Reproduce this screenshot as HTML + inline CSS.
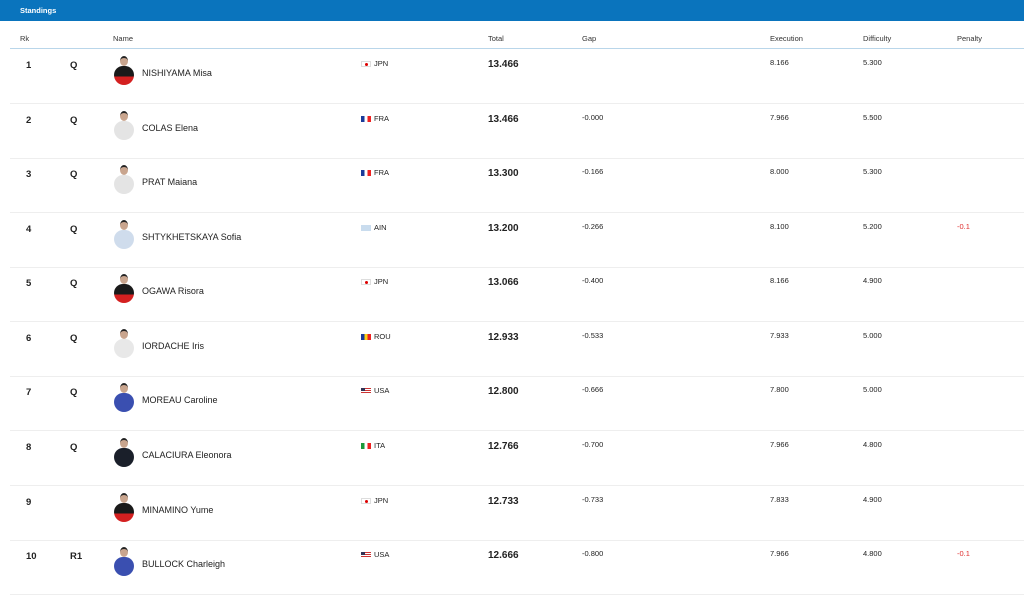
<!DOCTYPE html>
<html><head><meta charset="utf-8"><style>
*{margin:0;padding:0;box-sizing:border-box}
body{width:1024px;height:596px;background:#fff;font-family:"Liberation Sans",sans-serif;color:#222;position:relative;overflow:hidden}
.bar{position:absolute;left:0;top:0;width:1024px;height:21px;background:#0a74bd}
.bar span{position:absolute;left:20px;top:6px;font-size:7.5px;font-weight:bold;color:#fff}
.h{position:absolute;top:34px;font-size:7.5px;color:#333}
.hl{position:absolute;left:10px;top:48px;width:1014px;height:1px;background:#b9d6ea}
.row{position:absolute;left:0;width:1024px;height:55px}
.row .sep{position:absolute;left:10px;bottom:0;width:1014px;height:1px;background:#eee}
.row div{position:absolute}
.rk{left:26px;top:11px;font-size:9.5px;font-weight:bold}
.q{left:70px;top:11px;font-size:9.5px;font-weight:bold}
.nm{left:142px;top:19px;font-size:9px}
.fl{left:361px;top:12px;width:10px;height:6px}
.cc{left:374px;top:10px;font-size:7.5px}
.tot{left:488px;top:10px;font-size:10px;font-weight:bold}
.gap{left:582px;top:9px;font-size:7.5px}
.ex{left:770px;top:9px;font-size:7.5px}
.df{left:863px;top:9px;font-size:7.5px}
.pn{left:957px;top:9px;font-size:7.5px;color:#e03030}
.hd{left:120px;top:7px;width:8px;height:10px;border-radius:50%;background:#c9a58e;border-top:2px solid #222}
.bd{left:114px;top:17px;width:20px;height:19px;border-radius:9px 9px 10px 10px}
.jpn{background:#fff;border:1px solid #ddd}
.jpn::after{content:"";position:absolute;left:3px;top:1px;width:3px;height:3px;border-radius:50%;background:#d00}
.fra{background:linear-gradient(90deg,#1a3a9a 33%,#fff 33% 66%,#e22 66%)}
.ain{background:#c9dcee}
.rou{background:linear-gradient(90deg,#1a3a9a 33%,#fcd116 33% 66%,#e22 66%)}
.usa{background:repeating-linear-gradient(#c33 0 1px,#fff 1px 2px)}
.usa::after{content:"";position:absolute;left:0;top:0;width:4px;height:3px;background:#335}
.ita{background:linear-gradient(90deg,#1a9a3a 33%,#fff 33% 66%,#e22 66%)}
</style></head><body>
<div class="bar"><span>Standings</span></div>
<div class="h" style="left:20px">Rk</div>
<div class="h" style="left:113px">Name</div>
<div class="h" style="left:488px">Total</div>
<div class="h" style="left:582px">Gap</div>
<div class="h" style="left:770px">Execution</div>
<div class="h" style="left:863px">Difficulty</div>
<div class="h" style="left:957px">Penalty</div>
<div class="hl"></div>

<div class="row" style="top:49px"><div class="rk">1</div><div class="q">Q</div><div class="hd"></div><div class="bd" style="background:linear-gradient(#1a1a1a 55%,#d42020 55%)"></div><div class="nm">NISHIYAMA Misa</div><div class="fl jpn"></div><div class="cc">JPN</div><div class="tot">13.466</div><div class="ex">8.166</div><div class="df">5.300</div><div class="sep"></div></div>
<div class="row" style="top:104px"><div class="rk">2</div><div class="q">Q</div><div class="hd"></div><div class="bd" style="background:#e4e4e4"></div><div class="nm">COLAS Elena</div><div class="fl fra"></div><div class="cc">FRA</div><div class="tot">13.466</div><div class="gap">-0.000</div><div class="ex">7.966</div><div class="df">5.500</div><div class="sep"></div></div>
<div class="row" style="top:158px"><div class="rk">3</div><div class="q">Q</div><div class="hd"></div><div class="bd" style="background:#e4e4e4"></div><div class="nm">PRAT Maiana</div><div class="fl fra"></div><div class="cc">FRA</div><div class="tot">13.300</div><div class="gap">-0.166</div><div class="ex">8.000</div><div class="df">5.300</div><div class="sep"></div></div>
<div class="row" style="top:213px"><div class="rk">4</div><div class="q">Q</div><div class="hd"></div><div class="bd" style="background:#cfdcec"></div><div class="nm">SHTYKHETSKAYA Sofia</div><div class="fl ain"></div><div class="cc">AIN</div><div class="tot">13.200</div><div class="gap">-0.266</div><div class="ex">8.100</div><div class="df">5.200</div><div class="pn">-0.1</div><div class="sep"></div></div>
<div class="row" style="top:267px"><div class="rk">5</div><div class="q">Q</div><div class="hd"></div><div class="bd" style="background:linear-gradient(#1a1a1a 55%,#d42020 55%)"></div><div class="nm">OGAWA Risora</div><div class="fl jpn"></div><div class="cc">JPN</div><div class="tot">13.066</div><div class="gap">-0.400</div><div class="ex">8.166</div><div class="df">4.900</div><div class="sep"></div></div>
<div class="row" style="top:322px"><div class="rk">6</div><div class="q">Q</div><div class="hd"></div><div class="bd" style="background:#e8e8e8"></div><div class="nm">IORDACHE Iris</div><div class="fl rou"></div><div class="cc">ROU</div><div class="tot">12.933</div><div class="gap">-0.533</div><div class="ex">7.933</div><div class="df">5.000</div><div class="sep"></div></div>
<div class="row" style="top:376px"><div class="rk">7</div><div class="q">Q</div><div class="hd"></div><div class="bd" style="background:#3a4fb0"></div><div class="nm">MOREAU Caroline</div><div class="fl usa"></div><div class="cc">USA</div><div class="tot">12.800</div><div class="gap">-0.666</div><div class="ex">7.800</div><div class="df">5.000</div><div class="sep"></div></div>
<div class="row" style="top:431px"><div class="rk">8</div><div class="q">Q</div><div class="hd"></div><div class="bd" style="background:#1a1f2a"></div><div class="nm">CALACIURA Eleonora</div><div class="fl ita"></div><div class="cc">ITA</div><div class="tot">12.766</div><div class="gap">-0.700</div><div class="ex">7.966</div><div class="df">4.800</div><div class="sep"></div></div>
<div class="row" style="top:486px"><div class="rk">9</div><div class="hd"></div><div class="bd" style="background:linear-gradient(#1a1a1a 55%,#d42020 55%)"></div><div class="nm">MINAMINO Yume</div><div class="fl jpn"></div><div class="cc">JPN</div><div class="tot">12.733</div><div class="gap">-0.733</div><div class="ex">7.833</div><div class="df">4.900</div><div class="sep"></div></div>
<div class="row" style="top:540px"><div class="rk">10</div><div class="q">R1</div><div class="hd"></div><div class="bd" style="background:#3a4fb0"></div><div class="nm">BULLOCK Charleigh</div><div class="fl usa"></div><div class="cc">USA</div><div class="tot">12.666</div><div class="gap">-0.800</div><div class="ex">7.966</div><div class="df">4.800</div><div class="pn">-0.1</div><div class="sep"></div></div>
</body></html>
